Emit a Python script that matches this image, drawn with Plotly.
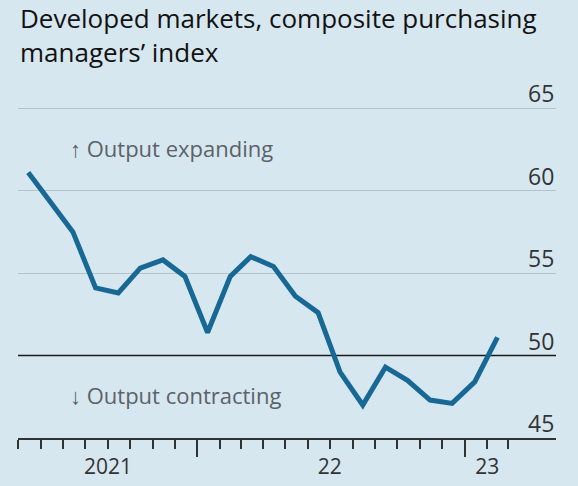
import plotly.graph_objects as go
import pandas as pd

# Monthly composite PMI, developed markets (mid-month points)
months = pd.date_range("2021-05-01", "2023-02-01", freq="MS") + pd.Timedelta(days=14)
pmi = [61.1, 59.3, 57.5, 54.1, 53.8, 55.3, 55.8, 54.8, 51.4, 54.8, 56.0, 55.4,
       53.6, 52.6, 49.0, 47.0, 49.3, 48.5, 47.3, 47.1, 48.4, 51.1]

y_ticks = [45, 50, 55, 60, 65]
month_ticks = pd.date_range("2021-05-01", "2023-03-01", freq="MS")
year_starts = ["2022-01-01", "2023-01-01"]
year_label_pos = ["2021-09-01", "2022-07-01", "2023-02-01"]
year_labels = ["2021", "22", "23"]
threshold = 50

BG = "#d7e7f0"
LINE = "#186895"
FONT = "Open Sans"
W, H = 578, 486
L, R, T, B = 18, 22, 100, 48
plot_w, plot_h = W - L - R, H - T - B

fig = go.Figure()
fig.add_trace(go.Scatter(
    x=months, y=pmi, mode="lines",
    line=dict(color=LINE, width=5),
    hoverinfo="skip", showlegend=False,
))
# invisible trace so the label axis is drawn
fig.add_trace(go.Scatter(x=[months[0]], y=[pmi[0]], xaxis="x2", mode="markers",
                         marker=dict(opacity=0), showlegend=False, hoverinfo="skip"))

# the 50 line is drawn as a dark rule instead of a gridline
fig.add_hline(y=threshold, line=dict(color="#1a1a1a", width=1.6), layer="below")
grid_vals = [v for v in y_ticks if v != threshold]

annotations = [
    dict(text="Developed markets, composite purchasing<br>managers’ index",
         x=0, xref="paper", xanchor="left", align="left",
         y=1 + (T + 2) / plot_h, yref="paper", yanchor="top",
         showarrow=False, font=dict(size=26, color="#121212", family=FONT)),
    dict(text="↑ Output expanding", x=(68 - L) / plot_w, xref="paper", xanchor="left",
         y=62.6, yref="y", showarrow=False,
         font=dict(size=22, color="#5b6268", family=FONT)),
    dict(text="↓ Output contracting", x=(68 - L) / plot_w, xref="paper", xanchor="left",
         y=47.6, yref="y", showarrow=False,
         font=dict(size=22, color="#5b6268", family=FONT)),
]
# y-axis labels sit just above their gridlines, right-aligned
for v in y_ticks:
    annotations.append(dict(text=str(v), x=1, xref="paper", xanchor="right",
                            y=v, yref="y", yanchor="bottom", yshift=-3,
                            showarrow=False,
                            font=dict(size=23, color="#333333", family=FONT)))

fig.update_layout(
    width=W, height=H,
    paper_bgcolor=BG, plot_bgcolor=BG,
    margin=dict(l=L, r=R, t=T, b=B, autoexpand=False),
    font=dict(family=FONT, color="#333333"),
    xaxis=dict(
        type="date", range=["2021-05-01", "2023-05-06"], automargin=False,
        showgrid=False, zeroline=False,
        showline=True, linecolor="#333333", linewidth=1.6,
        tickmode="array", tickvals=year_starts,
        ticks="outside", ticklen=17, tickwidth=1.6, tickcolor="#333333",
        showticklabels=False,
        minor=dict(tickmode="array", tickvals=month_ticks, ticks="outside",
                   ticklen=9, tickwidth=1.6, tickcolor="#333333"),
    ),
    xaxis2=dict(
        type="date", overlaying="x", matches="x", side="bottom", anchor="y",
        automargin=False,
        showgrid=False, zeroline=False, showline=False,
        tickmode="array", tickvals=year_label_pos, ticktext=year_labels,
        ticks="outside", ticklen=10, tickcolor="rgba(0,0,0,0)",
        tickfont=dict(size=21, color="#333333"),
    ),
    yaxis=dict(
        range=[45, 65.5], side="right", automargin=False,
        tickmode="array", tickvals=grid_vals, showticklabels=False,
        showgrid=True, gridcolor="#b4c2ca", gridwidth=1.4,
        zeroline=False, showline=False, ticks="",
    ),
    annotations=annotations,
)

fig.write_html("out.html", config={"displayModeBar": False},
               post_script="document.body.style.margin='0px';")
